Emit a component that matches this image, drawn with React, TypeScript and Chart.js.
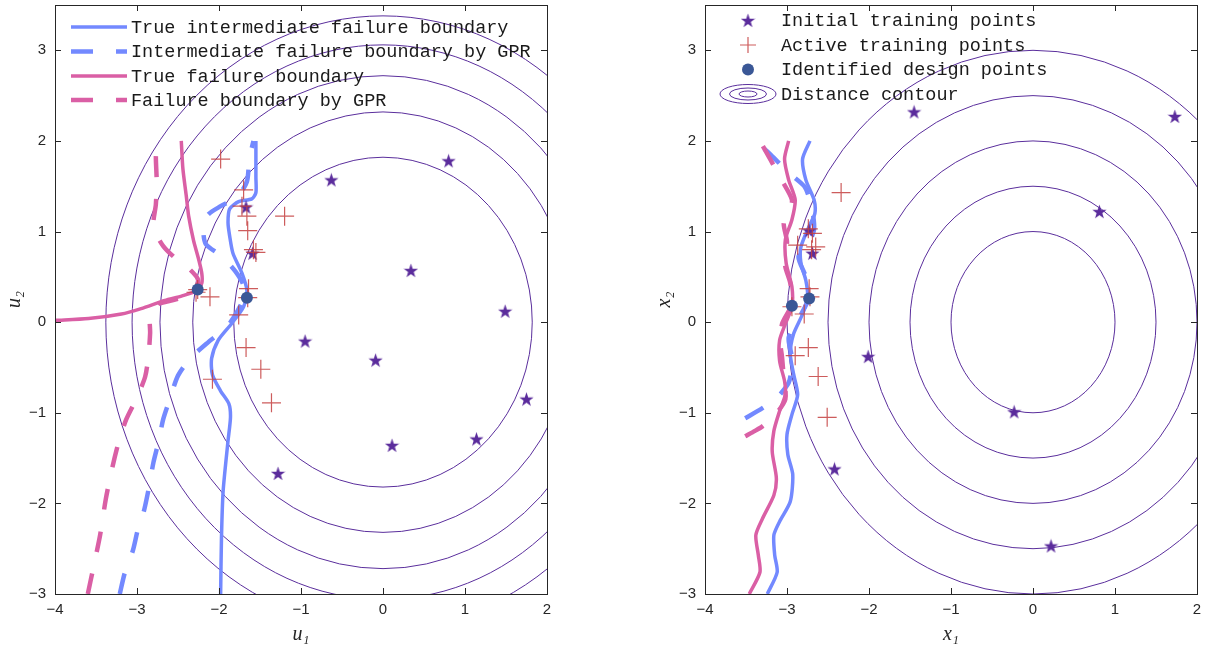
import React, { useEffect, useRef } from "react";
import { Chart, registerables } from "chart.js";

Chart.register(...registerables);

// ---------- shared ticks ----------
const xTickValues = [-4, -3, -2, -1, 0, 1, 2];
const yTickValues = [-3, -2, -1, 0, 1, 2, 3];

// ---------- left panel (standard normal space u) ----------
const uContourRadii = [1.82, 2.32, 2.72, 3.06, 3.38];

const uInitialX = [-0.63, -1.67, -1.59, -0.95, -0.09, 1.75, 0.11, 1.14, -1.28, 0.8, 0.34, 1.49];
const uInitialY = [1.57, 1.27, 0.76, -0.21, -0.42, -0.85, -1.36, -1.29, -1.67, 1.78, 0.57, 0.12];

const uActiveX = [-1.98, -1.7, -1.66, -1.65, -1.2, -1.55, -1.58, -1.64, -1.65, -1.76, -2.26, -2.11, -2.28, -1.67, -1.49, -2.08, -1.36, -1.72];
const uActiveY = [1.8, 1.46, 1.17, 1.01, 1.17, 0.77, 0.8, 0.37, 0.27, 0.08, 0.36, 0.28, 0.33, -0.28, -0.52, -0.63, -0.89, 1.28];

const uDesignX = [-2.26, -1.66];
const uDesignY = [0.36, 0.27];

const uTrueInter: [number, number][] = [
  [-1.55, 2.0], [-1.55, 1.6], [-1.55, 1.43], [-1.6, 1.36], [-1.76, 1.33], [-1.87, 1.25],
  [-1.89, 1.1], [-1.87, 0.95], [-1.83, 0.76], [-1.72, 0.54], [-1.66, 0.35], [-1.7, 0.17],
  [-1.85, -0.02], [-2.01, -0.2], [-2.09, -0.4], [-2.08, -0.58], [-1.98, -0.76], [-1.88, -0.9],
  [-1.86, -1.05], [-1.89, -1.31], [-1.95, -1.87], [-1.97, -2.39], [-1.98, -3.0],
];
const uGprInter: [number, number][] = [
  [-3.21, -3.0], [-3.15, -2.77], [-3.05, -2.52], [-2.99, -2.29], [-2.92, -2.1], [-2.86, -1.85],
  [-2.8, -1.55], [-2.74, -1.33], [-2.68, -1.07], [-2.6, -0.85], [-2.5, -0.59], [-2.35, -0.4],
  [-2.13, -0.22], [-1.9, -0.05], [-1.72, 0.22], [-1.7, 0.4], [-1.8, 0.56], [-1.97, 0.73],
  [-2.16, 0.86], [-2.19, 1.02], [-2.14, 1.18], [-1.98, 1.28], [-1.78, 1.38], [-1.66, 1.55],
  [-1.63, 1.8], [-1.58, 2.0],
];
const uTrueFail: [number, number][] = [
  [-2.46, 2.0], [-2.44, 1.69], [-2.4, 1.4], [-2.37, 1.17], [-2.31, 0.9], [-2.25, 0.7],
  [-2.21, 0.54], [-2.21, 0.43], [-2.27, 0.35], [-2.45, 0.29], [-2.66, 0.24], [-2.95, 0.15],
  [-3.19, 0.09], [-3.59, 0.04], [-4.0, 0.02],
];
const uGprFail: [number, number][] = [
  [-3.6, -3.0], [-3.53, -2.7], [-3.45, -2.35], [-3.38, -1.95], [-3.3, -1.6], [-3.22, -1.31],
  [-3.13, -1.07], [-3.0, -0.83], [-2.9, -0.6], [-2.86, -0.37], [-2.84, -0.12], [-2.84, 0.08],
  [-2.74, 0.2], [-2.62, 0.23], [-2.39, 0.29], [-2.27, 0.38], [-2.26, 0.48], [-2.4, 0.62],
  [-2.55, 0.72], [-2.68, 0.84], [-2.77, 0.98], [-2.8, 1.1], [-2.77, 1.3], [-2.76, 1.56],
  [-2.77, 1.82], [-2.76, 2.0],
];

// ---------- right panel (physical space x) ----------
const xContourRadii = [1, 1.5, 2, 2.5, 3];

const xInitialX = [-1.45, 1.73, 0.81, -2.01, -0.23, 0.22, -2.42, -2.73, -2.69];
const xInitialY = [2.32, 2.27, 1.22, -0.38, -0.99, -2.47, -1.62, 1.01, 0.76];

const xActiveX = [-2.34, -2.74, -2.69, -2.87, -2.65, -2.73, -2.72, -2.94, -2.79, -2.74, -2.9, -2.62, -2.51, -2.7];
const xActiveY = [1.43, 1.03, 0.98, 0.85, 0.83, 0.37, 0.28, 0.17, 0.09, -0.28, -0.37, -0.6, -1.05, 0.8];

const xDesignX = [-2.94, -2.73];
const xDesignY = [0.18, 0.26];

const xTrueInter: [number, number][] = [
  [-2.72, 2.0], [-2.81, 1.8], [-2.77, 1.57], [-2.67, 1.35], [-2.66, 1.2], [-2.73, 1.06],
  [-2.83, 0.83], [-2.83, 0.65], [-2.77, 0.46], [-2.75, 0.28], [-2.81, 0.09], [-2.92, -0.13],
  [-2.96, -0.35], [-2.92, -0.57], [-2.87, -0.8], [-2.94, -1.02], [-3.0, -1.24], [-2.99, -1.46],
  [-2.93, -1.68], [-2.96, -1.98], [-3.09, -2.2], [-3.16, -2.35], [-3.15, -2.57], [-3.12, -2.76],
  [-3.24, -3.0],
];
const xTrueFail: [number, number][] = [
  [-2.98, 2.0], [-3.03, 1.8], [-2.98, 1.57], [-2.9, 1.35], [-2.94, 1.13], [-3.02, 0.91],
  [-3.01, 0.65], [-2.94, 0.39], [-2.94, 0.17], [-3.02, -0.02], [-3.09, -0.2], [-3.09, -0.43],
  [-3.03, -0.65], [-3.02, -0.8], [-3.09, -0.98], [-3.16, -1.2], [-3.18, -1.43], [-3.13, -1.72],
  [-3.16, -1.91], [-3.3, -2.17], [-3.38, -2.35], [-3.35, -2.57], [-3.33, -2.76], [-3.46, -3.0],
];
const xGprInter: [number, number][] = [
  [-3.51, -1.06], [-3.3, -0.95], [-3.12, -0.83], [-2.98, -0.67], [-2.95, -0.55], [-2.94, -0.39],
  [-2.98, -0.17], [-2.85, 0.05], [-2.73, 0.28], [-2.77, 0.5], [-2.86, 0.72], [-2.75, 0.85],
  [-2.67, 1.02], [-2.69, 1.24], [-2.72, 1.35], [-2.79, 1.5], [-2.98, 1.65], [-3.2, 1.85],
  [-3.39, 2.0],
];
const xGprFail: [number, number][] = [
  [-3.51, -1.26], [-3.39, -1.2], [-3.3, -1.15], [-3.16, -1.04], [-3.02, -0.85], [-3.04, -0.61],
  [-3.06, -0.39], [-3.08, -0.24], [-3.06, -0.02], [-2.94, 0.2], [-2.96, 0.43], [-3.02, 0.61],
  [-3.02, 0.75], [-3.0, 0.89], [-3.04, 1.09], [-2.98, 1.2], [-2.94, 1.35], [-3.06, 1.56],
  [-3.2, 1.79], [-3.33, 2.0],
];

// ---------- legend labels ----------
const leftLegendLabels = [
  "True intermediate failure boundary",
  "Intermediate failure boundary by GPR",
  "True failure boundary",
  "Failure boundary by GPR",
];
const rightLegendLabels = [
  "Initial training points",
  "Active training points",
  "Identified design points",
  "Distance contour",
];

// ---------- styles ----------
const AXIS = "#262626";
const PURPLE = "#5b2c9c";
const CONTOUR = "#5a2e9c";
const RED = "rgba(196,64,64,0.85)";
const DOT = "#3a5796";
const BLUE = "#7389ff";
const PINK = "#da5fa5";
const DASH = [21, 22];
const LEGEND_FONT = '18.5px "Liberation Mono", "DejaVu Sans Mono", monospace';

function makeStar(size: number, color: string) {
  const c = document.createElement("canvas");
  c.width = size;
  c.height = size;
  const ctx = c.getContext("2d")!;
  const cx = size / 2;
  const cy = size / 2 + size * 0.04;
  const R = size / 2;
  const r = R * 0.4;
  ctx.beginPath();
  for (let i = 0; i < 10; i++) {
    const ang = -Math.PI / 2 + (i * Math.PI) / 5;
    const rad = i % 2 === 0 ? R : r;
    ctx.lineTo(cx + rad * Math.cos(ang), cy + rad * Math.sin(ang));
  }
  ctx.closePath();
  ctx.fillStyle = color;
  ctx.fill();
  return c;
}

const pts = (xs: number[], ys: number[]) => xs.map((x, i) => ({ x, y: ys[i] }));
const curve = (arr: [number, number][]) => arr.map(([x, y]) => ({ x, y }));
const fmt = (v: number | string) => {
  const n = Number(v);
  return n < 0 ? "\u2212" + Math.abs(n) : String(n);
};

function lineDataset(data: [number, number][], color: string, dashed: boolean) {
  return {
    data: curve(data),
    showLine: true,
    borderColor: color,
    backgroundColor: color,
    borderWidth: dashed ? 4.5 : 3.5,
    borderDash: dashed ? DASH : [],
    borderCapStyle: "butt",
    borderJoinStyle: "round",
    pointRadius: 0,
    tension: 0.25,
    fill: false,
    clip: 0,
    order: 5,
  };
}

function scales(xTitle: string, yTitle: string) {
  const tickFont = { family: '"Liberation Sans", Arial, sans-serif', size: 15 };
  const titleFont = { family: '"Liberation Serif", "DejaVu Serif", serif', size: 20, style: "italic" };
  return {
    x: {
      type: "linear",
      min: -4,
      max: 2,
      afterBuildTicks: (s: any) => {
        s.ticks = xTickValues.map((v) => ({ value: v }));
      },
      afterFit: (s: any) => {
        s.height = 58;
        s.paddingLeft = 0;
        s.paddingRight = 0;
        s.paddingTop = 0;
        s.paddingBottom = 0;
      },
      grid: { display: false, drawTicks: false },
      border: { display: false },
      ticks: { padding: 7, color: AXIS, font: tickFont, callback: fmt, maxRotation: 0, autoSkip: false },
      title: { display: true, text: xTitle, color: AXIS, font: titleFont, padding: { top: 5, bottom: 5 } },
    },
    y: {
      type: "linear",
      min: -3,
      max: 3.5,
      afterBuildTicks: (s: any) => {
        s.ticks = yTickValues.map((v) => ({ value: v }));
      },
      afterFit: (s: any) => {
        s.width = 55;
        s.paddingLeft = 0;
        s.paddingRight = 0;
        s.paddingTop = 0;
        s.paddingBottom = 0;
      },
      grid: { display: false, drawTicks: false },
      border: { display: false },
      ticks: { padding: 9, color: AXIS, font: tickFont, callback: fmt, autoSkip: false },
      title: { display: true, text: yTitle, color: AXIS, font: titleFont, padding: { top: 3, bottom: 3 } },
    },
  };
}

function framePlugin(radii: number[], drawLegend: (ctx: CanvasRenderingContext2D) => void) {
  return {
    id: "frame",
    beforeDatasetsDraw(chart: any) {
      const { ctx, chartArea } = chart;
      const xs = chart.scales.x;
      const ys = chart.scales.y;
      const cx = xs.getPixelForValue(0);
      const cy = ys.getPixelForValue(0);
      ctx.save();
      ctx.beginPath();
      ctx.rect(chartArea.left, chartArea.top, chartArea.right - chartArea.left, chartArea.bottom - chartArea.top);
      ctx.clip();
      ctx.strokeStyle = CONTOUR;
      ctx.lineWidth = 1;
      radii.forEach((r) => {
        const rx = xs.getPixelForValue(r) - cx;
        const ry = cy - ys.getPixelForValue(r);
        ctx.beginPath();
        ctx.ellipse(cx, cy, rx, ry, 0, 0, Math.PI * 2);
        ctx.stroke();
      });
      ctx.restore();
    },
    afterDraw(chart: any) {
      const { ctx, chartArea } = chart;
      const { left, right, top, bottom } = chartArea;
      const xs = chart.scales.x;
      const ys = chart.scales.y;
      ctx.save();
      ctx.strokeStyle = AXIS;
      ctx.lineWidth = 1;
      ctx.setLineDash([]);
      ctx.strokeRect(Math.round(left) + 0.5, Math.round(top) + 0.5, Math.round(right - left), Math.round(bottom - top));
      ctx.beginPath();
      xTickValues.forEach((v) => {
        const px = Math.round(xs.getPixelForValue(v)) + 0.5;
        ctx.moveTo(px, bottom);
        ctx.lineTo(px, bottom - 6);
        ctx.moveTo(px, top);
        ctx.lineTo(px, top + 6);
      });
      yTickValues.forEach((v) => {
        const py = Math.round(ys.getPixelForValue(v)) + 0.5;
        ctx.moveTo(left, py);
        ctx.lineTo(left + 6, py);
        ctx.moveTo(right, py);
        ctx.lineTo(right - 6, py);
      });
      ctx.stroke();
      drawLegend(ctx);
      ctx.restore();
    },
  };
}

function drawLeftLegend(ctx: CanvasRenderingContext2D) {
  const rows = [27, 51.5, 76, 100];
  const colors = [BLUE, BLUE, PINK, PINK];
  const dashed = [false, true, false, true];
  ctx.font = LEGEND_FONT;
  ctx.textBaseline = "middle";
  ctx.textAlign = "left";
  rows.forEach((y, i) => {
    ctx.beginPath();
    ctx.strokeStyle = colors[i];
    ctx.lineWidth = dashed[i] ? 4.5 : 3.5;
    ctx.lineCap = "butt";
    ctx.setLineDash(dashed[i] ? [22, 23] : []);
    ctx.moveTo(71, y);
    ctx.lineTo(127, y);
    ctx.stroke();
    ctx.setLineDash([]);
    ctx.fillStyle = "#1a1a1a";
    ctx.fillText(leftLegendLabels[i], 131, y + 1);
  });
}

function makeRightLegend(star: HTMLCanvasElement) {
  return (ctx: CanvasRenderingContext2D) => {
    const off = 607;
    const mx = 748 - off;
    const tx = 781 - off;
    const rows = [20.5, 45, 69.5, 94];
    ctx.drawImage(star, mx - star.width / 2, rows[0] - star.height / 2);
    ctx.beginPath();
    ctx.strokeStyle = RED;
    ctx.lineWidth = 1.2;
    ctx.moveTo(mx - 8, rows[1]);
    ctx.lineTo(mx + 8, rows[1]);
    ctx.moveTo(mx, rows[1] - 8);
    ctx.lineTo(mx, rows[1] + 8);
    ctx.stroke();
    ctx.beginPath();
    ctx.fillStyle = DOT;
    ctx.arc(mx, rows[2], 6, 0, Math.PI * 2);
    ctx.fill();
    ctx.strokeStyle = CONTOUR;
    ctx.lineWidth = 1;
    [[28, 9.5], [18.5, 6], [9, 3]].forEach(([rx, ry]) => {
      ctx.beginPath();
      ctx.ellipse(mx, rows[3], rx, ry, 0, 0, Math.PI * 2);
      ctx.stroke();
    });
    ctx.font = LEGEND_FONT;
    ctx.textBaseline = "middle";
    ctx.textAlign = "left";
    ctx.fillStyle = "#1a1a1a";
    rows.forEach((y, i) => ctx.fillText(rightLegendLabels[i], tx, y + 1));
  };
}

function buildConfig(
  star: HTMLCanvasElement,
  d: {
    initX: number[]; initY: number[]; actX: number[]; actY: number[]; desX: number[]; desY: number[];
    trueInter: [number, number][]; gprInter: [number, number][]; trueFail: [number, number][]; gprFail: [number, number][];
  },
  xTitle: string,
  yTitle: string,
  padding: any,
  plugin: any
): any {
  return {
    type: "scatter",
    data: {
      datasets: [
        { data: pts(d.desX, d.desY), pointStyle: "circle", pointRadius: 6, backgroundColor: DOT, borderWidth: 0, order: 1 },
        { data: pts(d.actX, d.actY), pointStyle: "cross", pointRadius: 9.5, borderColor: RED, borderWidth: 1.2, order: 2 },
        { data: pts(d.initX, d.initY), pointStyle: star, pointRadius: 7, order: 3 },
        lineDataset(d.trueFail, PINK, false),
        lineDataset(d.gprFail, PINK, true),
        lineDataset(d.trueInter, BLUE, false),
        lineDataset(d.gprInter, BLUE, true),
      ],
    },
    options: {
      animation: false,
      responsive: false,
      maintainAspectRatio: false,
      events: [],
      layout: { padding, autoPadding: false },
      plugins: { legend: { display: false }, tooltip: { enabled: false } },
      scales: scales(xTitle, yTitle),
    },
    plugins: [plugin],
  };
}

export default function App() {
  const leftRef = useRef<HTMLCanvasElement>(null);
  const rightRef = useRef<HTMLCanvasElement>(null);

  useEffect(() => {
    const star = makeStar(15, PURPLE);
    const left = new Chart(
      leftRef.current!,
      buildConfig(
        star,
        {
          initX: uInitialX, initY: uInitialY, actX: uActiveX, actY: uActiveY, desX: uDesignX, desY: uDesignY,
          trueInter: uTrueInter, gprInter: uGprInter, trueFail: uTrueFail, gprFail: uGprFail,
        },
        "u\u2081",
        "u\u2082",
        { left: 0, right: 60, top: 5, bottom: 0 },
        framePlugin(uContourRadii, drawLeftLegend)
      )
    );
    const right = new Chart(
      rightRef.current!,
      buildConfig(
        star,
        {
          initX: xInitialX, initY: xInitialY, actX: xActiveX, actY: xActiveY, desX: xDesignX, desY: xDesignY,
          trueInter: xTrueInter, gprInter: xGprInter, trueFail: xTrueFail, gprFail: xGprFail,
        },
        "x\u2081",
        "x\u2082",
        { left: 43, right: 17, top: 5, bottom: 0 },
        framePlugin(xContourRadii, makeRightLegend(star))
      )
    );
    return () => {
      left.destroy();
      right.destroy();
    };
  }, []);

  return (
    <div style={{ position: "absolute", left: 0, top: 0, width: 1214, height: 652, background: "#fff" }}>
      <canvas ref={leftRef} width={607} height={652} style={{ position: "absolute", left: 0, top: 0, width: 607, height: 652 }} />
      <canvas ref={rightRef} width={607} height={652} style={{ position: "absolute", left: 607, top: 0, width: 607, height: 652 }} />
    </div>
  );
}
